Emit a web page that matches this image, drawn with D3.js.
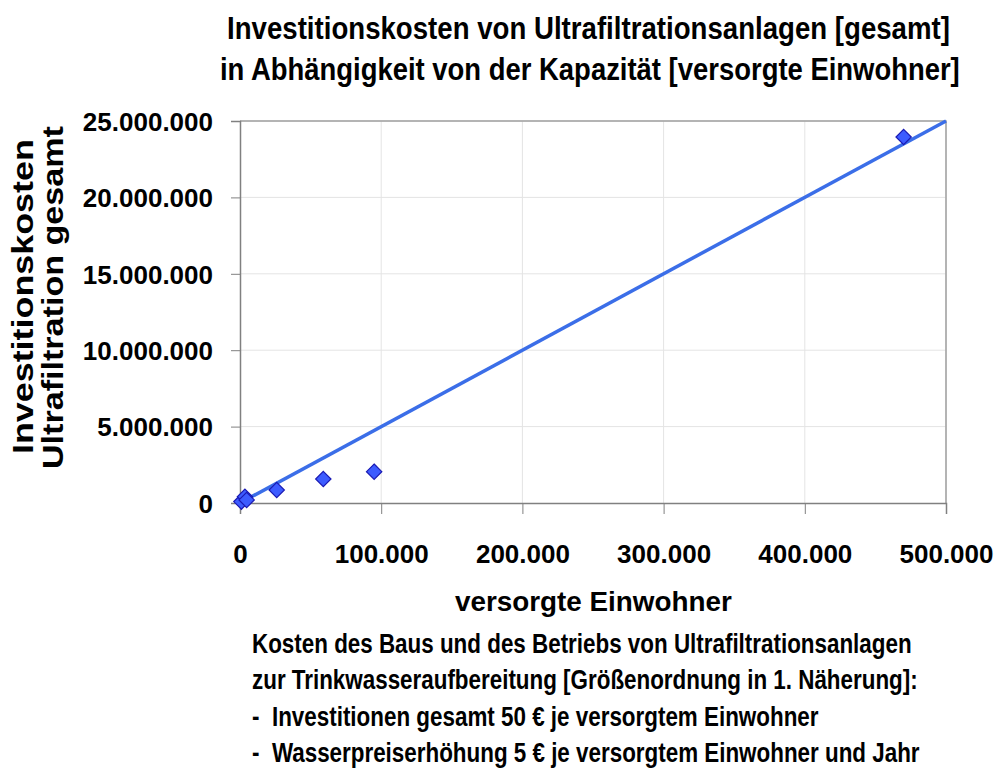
<!DOCTYPE html>
<html>
<head>
<meta charset="utf-8">
<script src="https://cdn.jsdelivr.net/npm/d3@7"></script>
<style>
  body { margin: 0; background: #fff; }
  svg { display: block; }
  text { font-family: "Liberation Sans", Arial, sans-serif; font-weight: bold; fill: #000; white-space: pre; }
</style>
</head>
<body>
<script>
// values
var einwohner = [1000, 3500, 4700, 26000, 59000, 95000, 470000];
var kosten    = [90000, 410000, 200000, 850000, 1570000, 2050000, 23950000];
var trendX    = [0, 500000];
var trendY    = trendX.map(function(x){ return x * 50; }); // 50 € je Einwohner
var xTicks    = [0, 100000, 200000, 300000, 400000, 500000];
var yTicks    = [0, 5000000, 10000000, 15000000, 20000000, 25000000];
var titleLines = ["Investitionskosten von Ultrafiltrationsanlagen [gesamt]",
                  "in Abhängigkeit von der Kapazität [versorgte Einwohner]"];
var yTitleLines = ["Investitionskosten", "Ultrafiltration gesamt"];
var xTitle = "versorgte Einwohner";
var noteLines = ["Kosten des Baus und des Betriebs von Ultrafiltrationsanlagen",
                 "zur Trinkwasseraufbereitung [Größenordnung in 1. Näherung]:",
                 "-  Investitionen gesamt 50 € je versorgtem Einwohner",
                 "-  Wasserpreiserhöhung 5 € je versorgtem Einwohner und Jahr"];

var W = 1003, H = 774;
var margin = {top: 121, right: 57, bottom: 271, left: 240};
var width = W - margin.left - margin.right;
var height = H - margin.top - margin.bottom;

// german number format: dots as thousands separator
var de = d3.formatLocale({decimal: ",", thousands: ".", grouping: [3], currency: ["", " €"]});
var fmt = de.format(",d");

var svg = d3.select("body").append("svg")
    .attr("width", W)
    .attr("height", H);

var g = svg.append("g")
    .attr("transform", "translate(" + margin.left + "," + margin.top + ")");

var x = d3.scaleLinear().domain([0, 500000]).range([0, width]);
var y = d3.scaleLinear().domain([0, 25000000]).range([height, 0]);

//grid lines
g.append("g")
    .selectAll("line")
    .data(yTicks.slice(1))
    .enter().append("line")
    .attr("x1", 0).attr("x2", width)
    .attr("y1", function(d){ return y(d); })
    .attr("y2", function(d){ return y(d); })
    .attr("stroke", "#e4e4e4")
    .attr("stroke-width", 1);

g.append("g")
    .selectAll("line")
    .data(xTicks.slice(1))
    .enter().append("line")
    .attr("x1", function(d){ return x(d); })
    .attr("x2", function(d){ return x(d); })
    .attr("y1", 0).attr("y2", height)
    .attr("stroke", "#e4e4e4")
    .attr("stroke-width", 1);

// top and right border of plot area
g.append("path")
    .attr("d", "M0,0H" + width + "V" + height)
    .attr("fill", "none")
    .attr("stroke", "#a0a0a0")
    .attr("stroke-width", 1.5);

// axes
var xAxis = g.append("g")
    .attr("transform", "translate(0," + height + ")")
    .call(d3.axisBottom(x).tickValues(xTicks).tickFormat(fmt).tickSize(11).tickPadding(31));

var yAxis = g.append("g")
    .call(d3.axisLeft(y).tickValues(yTicks).tickFormat(fmt).tickSize(9).tickPadding(18));

[xAxis, yAxis].forEach(function(a){
  a.attr("font-family", null).attr("font-size", null);
  a.select(".domain").attr("stroke", "#808080").attr("stroke-width", 1.5);
  a.selectAll(".tick line").attr("stroke", "#808080").attr("stroke-width", 1);
  a.selectAll(".tick text")
      .attr("fill", "#000")
      .style("font-size", "26px");
});
yAxis.selectAll(".tick text").attr("dy", "0.36em");

// trend line
var line = d3.line()
    .x(function(d){ return x(d[0]); })
    .y(function(d){ return y(d[1]); });

g.append("path")
    .datum(d3.zip(trendX, trendY))
    .attr("d", line)
    .attr("fill", "none")
    .attr("stroke", "#3b6ee8")
    .attr("stroke-width", 3.5);

// diamond markers
var diamond = d3.symbol().type(d3.symbolDiamond2).size(150);
g.selectAll(".pt")
    .data(d3.zip(einwohner, kosten))
    .enter().append("path")
    .attr("class", "pt")
    .attr("d", diamond)
    .attr("transform", function(d){ return "translate(" + x(d[0]) + "," + y(d[1]) + ")"; })
    .attr("fill", "#3d5cff")
    .attr("stroke", "#1a1ab4")
    .attr("stroke-width", 1.2);

// condensed text: scale the line horizontally to the width seen in the picture
function squeezed(parent, str, tx, ty, size, len) {
  var t = parent.append("text")
      .style("font-size", size + "px")
      .text(str);
  var k = len / t.node().getComputedTextLength();
  t.attr("transform", "translate(" + tx + "," + ty + ") scale(" + k + ",1)");
  return t;
}

// title
squeezed(svg, titleLines[0], 227, 39, 31, 723);
squeezed(svg, titleLines[1], 220, 80, 31, 740);

// y axis title (rotated, two lines)
var yt = svg.append("g").attr("transform", "translate(0,297) rotate(-90)");
squeezed(yt, yTitleLines[0], -157, 33, 30, 315);
squeezed(yt, yTitleLines[1], -172, 63, 30, 343);

// x axis title
squeezed(svg, xTitle, 455, 611, 27, 277);

// note below the chart
var noteLen = [660, 666, 567, 668];
noteLines.forEach(function(s, i){
  squeezed(svg, s, 252, 653 + i * 36.3, 27, noteLen[i]);
});
</script>
</body>
</html>
